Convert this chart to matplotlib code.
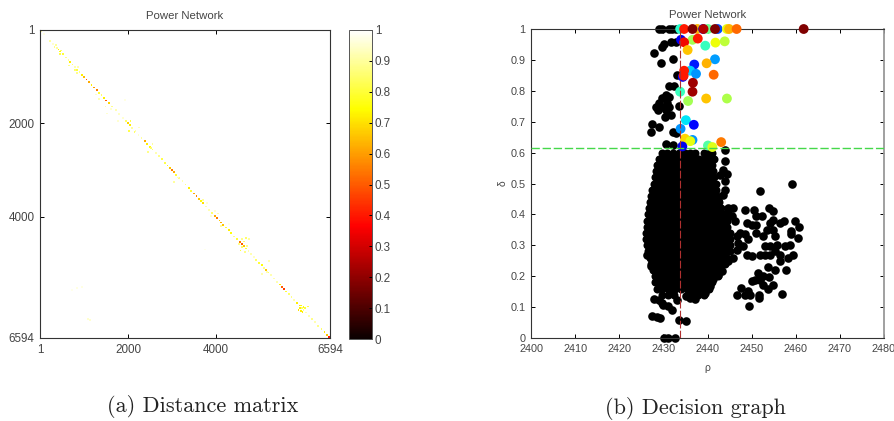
import matplotlib
matplotlib.use("Agg")
import matplotlib.pyplot as plt
from matplotlib.cm import ScalarMappable
from matplotlib.colors import Normalize

plt.rcParams['font.family'] = ['Liberation Sans', 'DejaVu Sans']
GREY = '#454545'

# left panel: nonzero-looking cells of the distance matrix (column, row, value)
diag_idx = [30, 90, 230, 300, 380, 420, 460, 520, 590, 650, 690, 740, 800, 850, 900, 960, 1010, 1060, 1110, 1170,
            1230, 1290, 1350, 1400, 1460, 1510, 1570, 1640, 1720, 1800, 1880, 1950, 2000, 2040, 2100, 2170, 2240, 2310,
            2380, 2440, 2500, 2560, 2630, 2700, 2770, 2840, 2900, 2950, 3000, 3040, 3100, 3170, 3240, 3310, 3380, 3440,
            3500, 3560, 3620, 3660, 3700, 3780, 3850, 3920, 3980, 4030, 4080, 4120, 4170, 4230, 4290, 4350, 4420, 4480,
            4540, 4590, 4630, 4680, 4740, 4800, 4860, 4920, 4980, 5040, 5090, 5130, 5190, 5250, 5320, 5390, 5450, 5500,
            5540, 5600, 5660, 5720, 5780, 5840, 5900, 5950, 5990, 6050, 6120, 6190, 6260, 6330, 6400, 6470, 6530, 6575]
diag_val = [.9, .97, .9, .95, .9, .72, .75, .8, .88, .9, .72, .85, .92, .8, .88, .72, .65, .5, .62, .72,
            .6, .55, .8, .85, .72, .5, .68, .88, .92, .94, .95, .85, .68, .72, .9, .92, .95, .9,
            .62, .72, .75, .85, .92, .88, .82, .82, .75, .66, .55, .62, .8, .88, .92, .88, .72, .8,
            .62, .55, .66, .75, .7, .92, .92, .85, .62, .55, .66, .62, .66, .8, .72, .75, .88, .8,
            .55, .5, .66, .8, .92, .92, .94, .85, .8, .75, .62, .66, .85, .92, .92, .92, .72, .5,
            .45, .8, .85, .88, .92, .72, .7, .85, .88, .92, .92, .88, .92, .88, .85, .72, .66, .4]
off_col = [330, 370, 480, 450, 660, 790, 870, 840, 1270, 1340, 1490, 1530, 1610, 1930, 1780, 2060, 2150, 2030, 2260, 2520,
           2460, 2560, 3130, 3040, 3700, 3800, 3980, 4040, 3890, 4110, 4590, 4680, 4760, 4520, 4660, 5100, 5210, 5160, 5050, 5910,
           5990, 5930, 6100, 834, 720, 950, 1100, 1130, 3750, 4300, 5880, 5930, 5970, 6020, 4600, 4640, 4700, 4560]
off_row = [370, 330, 440, 520, 760, 850, 790, 930, 1380, 1470, 1640, 1790, 1700, 1500, 1950, 1950, 2190, 2160, 2090, 2530,
           2620, 2440, 3160, 3250, 3640, 3710, 3880, 3930, 3990, 4190, 4480, 4450, 4470, 4590, 4760, 5100, 4950, 5180, 5230, 5950,
           5930, 6020, 5920, 5525, 5560, 5500, 6180, 6210, 4700, 4150, 5990, 5900, 6030, 5960, 4650, 4530, 4620, 4720]
off_val = [.88, .9, .85, .82, .88, .85, .92, .88, .94, .92, .92, .95, .95, .97, .95, .82, .85, .82, .94, .85,
           .88, .9, .94, .9, .9, .95, .95, .92, .95, .9, .88, .85, .9, .88, .88, .88, .92, .92, .92, .72,
           .75, .72, .82, .97, .98, .97, .95, .95, .98, .98, .7, .75, .72, .8, .85, .85, .88, .8]

cbar_ticks = [0, .1, .2, .3, .4, .5, .6, .7, .8, .9, 1]
cbar_labels = ['0', '0.1', '0.2', '0.3', '0.4', '0.5', '0.6', '0.7', '0.8', '0.9', '1']

# right panel: black points, the dense part written row by row
blob_delta = [.60, .58, .56, .54, .52, .50, .48, .46, .44, .42, .40, .38, .36, .34, .32, .30, .28, .26, .24, .22, .20, .18, .16, .14]
blob_rho = [
    [2429.6, 2430.9, 2432.2, 2433.5, 2434.8, 2436.1, 2437.2, 2439.2, 2440.2, 2441.0],
    [2428.9, 2430.2, 2431.5, 2432.8, 2434.1, 2435.4, 2436.7, 2438.0, 2439.3, 2440.6, 2441.5],
    [2428.6, 2429.9, 2431.2, 2432.5, 2433.8, 2435.1, 2436.4, 2437.7, 2439.0, 2440.3, 2441.0],
    [2428.3, 2429.6, 2430.9, 2432.2, 2433.5, 2434.8, 2436.1, 2437.4, 2438.7, 2440.0, 2441.3],
    [2428.0, 2429.3, 2430.6, 2431.9, 2433.2, 2434.5, 2435.8, 2437.1, 2438.4, 2439.7, 2441.0, 2441.5],
    [2427.8, 2429.1, 2430.4, 2431.7, 2433.0, 2434.3, 2435.6, 2436.9, 2438.2, 2439.5, 2440.8, 2442.0],
    [2427.4, 2428.7, 2430.0, 2431.3, 2432.6, 2433.9, 2435.2, 2436.5, 2437.8, 2439.1, 2440.4, 2441.7, 2442.0],
    [2427.1, 2428.4, 2429.7, 2431.0, 2432.3, 2433.6, 2434.9, 2436.2, 2437.5, 2438.8, 2440.1, 2441.4, 2442.2],
    [2426.9, 2428.2, 2429.5, 2430.8, 2432.1, 2433.4, 2434.7, 2436.0, 2437.3, 2438.6, 2439.9, 2441.2, 2442.6],
    [2426.7, 2428.0, 2429.3, 2430.6, 2431.9, 2433.2, 2434.5, 2435.8, 2437.1, 2438.4, 2439.7, 2441.0, 2442.3, 2443.0],
    [2426.6, 2427.9, 2429.2, 2430.5, 2431.8, 2433.1, 2434.4, 2435.7, 2437.0, 2438.3, 2439.6, 2440.9, 2442.2, 2443.5, 2444.0],
    [2426.4, 2427.7, 2429.0, 2430.3, 2431.6, 2432.9, 2434.2, 2435.5, 2436.8, 2438.1, 2439.4, 2440.7, 2442.0, 2443.3, 2444.5],
    [2426.3, 2427.6, 2428.9, 2430.2, 2431.5, 2432.8, 2434.1, 2435.4, 2436.7, 2438.0, 2439.3, 2440.6, 2441.9, 2443.2, 2444.5],
    [2426.1, 2427.4, 2428.7, 2430.0, 2431.3, 2432.6, 2433.9, 2435.2, 2436.5, 2437.8, 2439.1, 2440.4, 2441.7, 2443.0, 2444.3, 2445.0],
    [2426.0, 2427.3, 2428.6, 2429.9, 2431.2, 2432.5, 2433.8, 2435.1, 2436.4, 2437.7, 2439.0, 2440.3, 2441.6, 2442.9, 2444.2, 2445.2],
    [2426.3, 2427.6, 2428.9, 2430.2, 2431.5, 2432.8, 2434.1, 2435.4, 2436.7, 2438.0, 2439.3, 2440.6, 2441.9, 2443.2, 2444.5, 2445.2],
    [2426.5, 2427.8, 2429.1, 2430.4, 2431.7, 2433.0, 2434.3, 2435.6, 2436.9, 2438.2, 2439.5, 2440.8, 2442.1, 2443.4, 2445.0],
    [2427.0, 2428.3, 2429.6, 2430.9, 2432.2, 2433.5, 2434.8, 2436.1, 2437.4, 2438.7, 2440.0, 2441.3, 2442.6, 2443.9, 2444.5],
    [2427.3, 2428.6, 2429.9, 2431.2, 2432.5, 2433.8, 2435.1, 2436.4, 2437.7, 2439.0, 2440.3, 2441.6, 2442.9, 2444.0],
    [2427.6, 2428.9, 2430.2, 2431.5, 2432.8, 2434.1, 2435.4, 2436.7, 2438.0, 2439.3, 2440.6, 2441.9, 2443.0],
    [2428.0, 2429.3, 2430.6, 2431.9, 2433.2, 2434.5, 2435.8, 2437.1, 2438.4, 2439.7, 2441.0, 2442.3],
    [2428.2, 2429.5, 2430.8, 2432.1, 2433.4, 2434.7, 2436.0, 2437.3, 2438.6, 2439.9, 2441.0],
    [2428.5, 2429.8, 2431.1, 2432.6, 2434.0, 2435.4, 2436.8, 2438.0, 2439.2, 2440.4],
    [2429.6, 2431.0, 2432.4, 2435.6, 2436.2, 2437.2, 2437.9, 2439.2],
]
# scattered black points around the dense part
black_rho = [2429.0, 2429.8, 2431.3, 2432.0, 2432.8, 2427.8, 2429.6, 2430.2, 2431.7, 2432.8, 2429.5, 2432.1, 2433.0, 2431.3, 2432.3,
             2430.55, 2429.8, 2431.3, 2429.0, 2428.7, 2430.9, 2431.3, 2430.55, 2429.4, 2428.3, 2431.7, 2430.4, 2433.5,
             2427.5, 2429.0, 2427.1, 2432.1, 2432.8, 2430.5, 2432.1,
             2444.0, 2444.0, 2443.6, 2444.5, 2442.8, 2444.0, 2444.0, 2443.6, 2442.4,
             2459.2, 2451.9, 2448.5, 2450.5, 2453.9, 2454.9, 2452.3, 2451.1, 2459.8, 2460.8, 2460.6, 2459.0, 2459.0,
             2457.3, 2456.4, 2454.9, 2454.2, 2453.4, 2454.9, 2455.3, 2452.6, 2451.1, 2451.1, 2448.9, 2450.0,
             2459.4, 2458.3, 2456.4, 2456.4, 2458.7, 2457.6, 2455.7, 2454.2, 2453.0, 2451.9, 2453.0, 2454.2, 2455.3,
             2453.8, 2455.3, 2457.8, 2456.8, 2454.9, 2453.8, 2452.6, 2454.0, 2452.6, 2451.5, 2450.8, 2450.0, 2451.9,
             2446.6, 2447.7, 2448.5, 2449.6, 2449.2, 2449.5, 2451.7, 2451.7,
             2444.7, 2445.8, 2444.7, 2445.5, 2446.2, 2446.6, 2447.4, 2448.5, 2449.2, 2448.1, 2447.0, 2446.6, 2448.9, 2450.0, 2445.8, 2444.7,
             2426.4, 2427.3, 2428.1, 2427.9, 2428.9, 2429.6, 2430.0, 2431.1, 2431.9, 2433.0, 2427.5, 2428.5, 2429.2, 2433.5, 2435.1,
             2430.1, 2431.1, 2432.6, 2436.0, 2437.2, 2435.2, 2439.4, 2440.6, 2441.3, 2442.4, 2443.2, 2430.4, 2431.5]
black_delta = [1, 1, 1, 1, 1, .921, .943, .951, .957, .959, .889, .904, .851, .816, .816,
               .787, .776, .781, .760, .738, .760, .749, .738, .749, .747, .722, .716, .751,
               .693, .684, .668, .668, .662, .627, .625,
               .607, .572, .545, .531, .529, .508, .48, .464, .448,
               .5, .475, .415, .415, .421, .41, .394, .394, .38, .36, .324, .346, .335,
               .38, .373, .383, .373, .351, .351, .329, .329, .34, .367, .373, .367,
               .27, .259, .27, .248, .302, .299, .302, .297, .297, .27, .27, .27, .281,
               .23, .219, .221, .144, .17, .159, .173, .198, .2, .21, .189, .184, .189,
               .14, .162, .14, .14, .151, .103, .14, .13,
               .421, .421, .4, .394, .378, .329, .34, .335, .319, .297, .308, .286, .27, .265, .259, .248,
               .27, .232, .238, .126, .124, .113, .108, .103, .092, .124, .07, .067, .065, .057, .054,
               0, 0, 0, .13, .126, .135, .146, .167, .19, .205, .216, .165, .15]

# cluster centres, cluster_id runs through the jet colour scale
centre_rho = [2433.8, 2437.7, 2439.0, 2442.3, 2440.1, 2434.7, 2436.6, 2439.1, 2441.7, 2444.4, 2444.9, 2446.6, 2461.8,
              2434.0, 2436.6, 2434.7, 2437.8, 2439.5, 2441.8, 2443.9, 2435.5,
              2441.7, 2439.8, 2437.0, 2436.1, 2437.4, 2434.4, 2434.7, 2434.6, 2441.4, 2436.7, 2436.6, 2433.8,
              2435.6, 2439.7, 2444.4, 2435.1, 2436.9, 2433.9, 2436.6, 2434.9, 2436.1, 2434.3, 2440.1, 2441.1, 2443.1]
centre_delta = [1, 1, 1, 1, 1, 1, 1, 1, 1, 1, 1, 1, 1,
                .965, .965, .957, .969, .946, .956, .96, .932,
                .902, .889, .885, .865, .855, .845, .865, .849, .852, .826, .797, .797,
                .767, .775, .775, .705, .69, .677, .641, .645, .637, .62, .623, .618, .634]
cluster_id = [.4, .72, .15, .2, .48, .88, 1.0, .95, 1.0, .63, .72, .8, 1.0,
              .1, .55, .9, .88, .42, .64, .58, .7,
              .28, .72, .15, .33, .27, .12, .88, .88, .8, .97, .97, .42,
              .55, .7, .56, .35, .13, .27, .27, .68, .63, .1, .45, .62, .78]

threshold_delta = 0.615
threshold_rho = 2433.7

fig = plt.figure(figsize=(8.95, 4.21), dpi=100)
W, H = 895.0, 421.0
ax1 = fig.add_axes([40 / W, 1 - 338 / H, 290 / W, 308 / H])
cax = fig.add_axes([349 / W, 1 - 339 / H, 23 / W, 309 / H])
ax2 = fig.add_axes([531 / W, 1 - 338 / H, 353 / W, 309 / H])

# distance matrix
ax1.scatter(diag_idx, diag_idx, c=diag_val, cmap='hot', vmin=0, vmax=1, s=1.7, marker='s', linewidths=0)
ax1.scatter(off_col, off_row, c=off_val, cmap='hot', vmin=0, vmax=1, s=1.7, marker='s', linewidths=0)
ax1.set_xlim(1, 6594)
ax1.set_ylim(6594, 1)
ax1.set_xticks([1, 2000, 4000, 6594])
ax1.set_yticks([1, 2000, 4000, 6594])
ax1.set_title('Power Network', fontsize=8.2, color=GREY, pad=8)

cb = fig.colorbar(ScalarMappable(Normalize(0, 1), 'hot'), cax=cax)
cb.set_ticks(cbar_ticks)
cb.set_ticklabels(cbar_labels)
cax.tick_params(direction='in', length=2.5, width=0.7, labelsize=8.4, labelcolor=GREY, pad=2)
for s in cax.spines.values():
    s.set_linewidth(0.7)
    s.set_color('#555555')

# decision graph
# the inside of the dense part is solid in the original, so close the gaps between the rows
ax2.fill_betweenx(blob_delta[1:-1], [r[0] for r in blob_rho[1:-1]], [r[-1] for r in blob_rho[1:-1]], color='black', lw=0)
for d, row in zip(blob_delta, blob_rho):
    ax2.plot(row, [d] * len(row), 'o', color='black', ms=5.8, mew=0, clip_on=False)
ax2.plot(black_rho, black_delta, 'o', color='black', ms=6.2, mew=0, clip_on=False)
ax2.scatter(centre_rho, centre_delta, c=cluster_id, cmap='jet', vmin=0, vmax=1, s=50, linewidths=0, clip_on=False, zorder=3)
ax2.axhline(threshold_delta, color='#45d84a', ls='--', lw=1, dashes=(6, 2), zorder=4)
ax2.plot([threshold_rho, threshold_rho], [0, 1], color='#b03030', ls='--', lw=0.8, dashes=(7, 2), zorder=4)
ax2.set_xlim(2400, 2480)
ax2.set_ylim(0, 1)
ax2.set_xticks(range(2400, 2481, 10))
ax2.set_yticks(cbar_ticks)
ax2.set_yticklabels(cbar_labels)
ax2.set_title('Power Network', fontsize=8.2, color=GREY, pad=8)
ax2.set_xlabel('ρ', fontsize=7.5, color=GREY, labelpad=7)
ax2.set_ylabel('δ', fontsize=7.5, color=GREY, labelpad=2)
ax2.spines['right'].set_color('#999999')
ax2.spines['right'].set_linewidth(1.3)

for ax, size in ((ax1, 8.4), (ax2, 7.8)):
    ax.tick_params(direction='in', top=True, right=True, length=3, width=0.7, labelsize=size, labelcolor=GREY, pad=4)
    for name in ('left', 'top', 'bottom'):
        ax.spines[name].set_linewidth(0.8)
        ax.spines[name].set_color('#333333')
ax1.spines['right'].set_linewidth(0.8)
ax1.spines['right'].set_color('#333333')

# captions sit below the matlab panels, in the paper's own typeface
fig.text(203 / W, 1 - 412 / H, '(a) Distance matrix', family='cmr10', fontsize=16, ha='center', va='baseline', color='#222222')
fig.text(695 / W, 1 - 414 / H, '(b) Decision graph', family='cmr10', fontsize=16, ha='center', va='baseline', color='#222222')

fig.savefig('out.png', dpi=100)
